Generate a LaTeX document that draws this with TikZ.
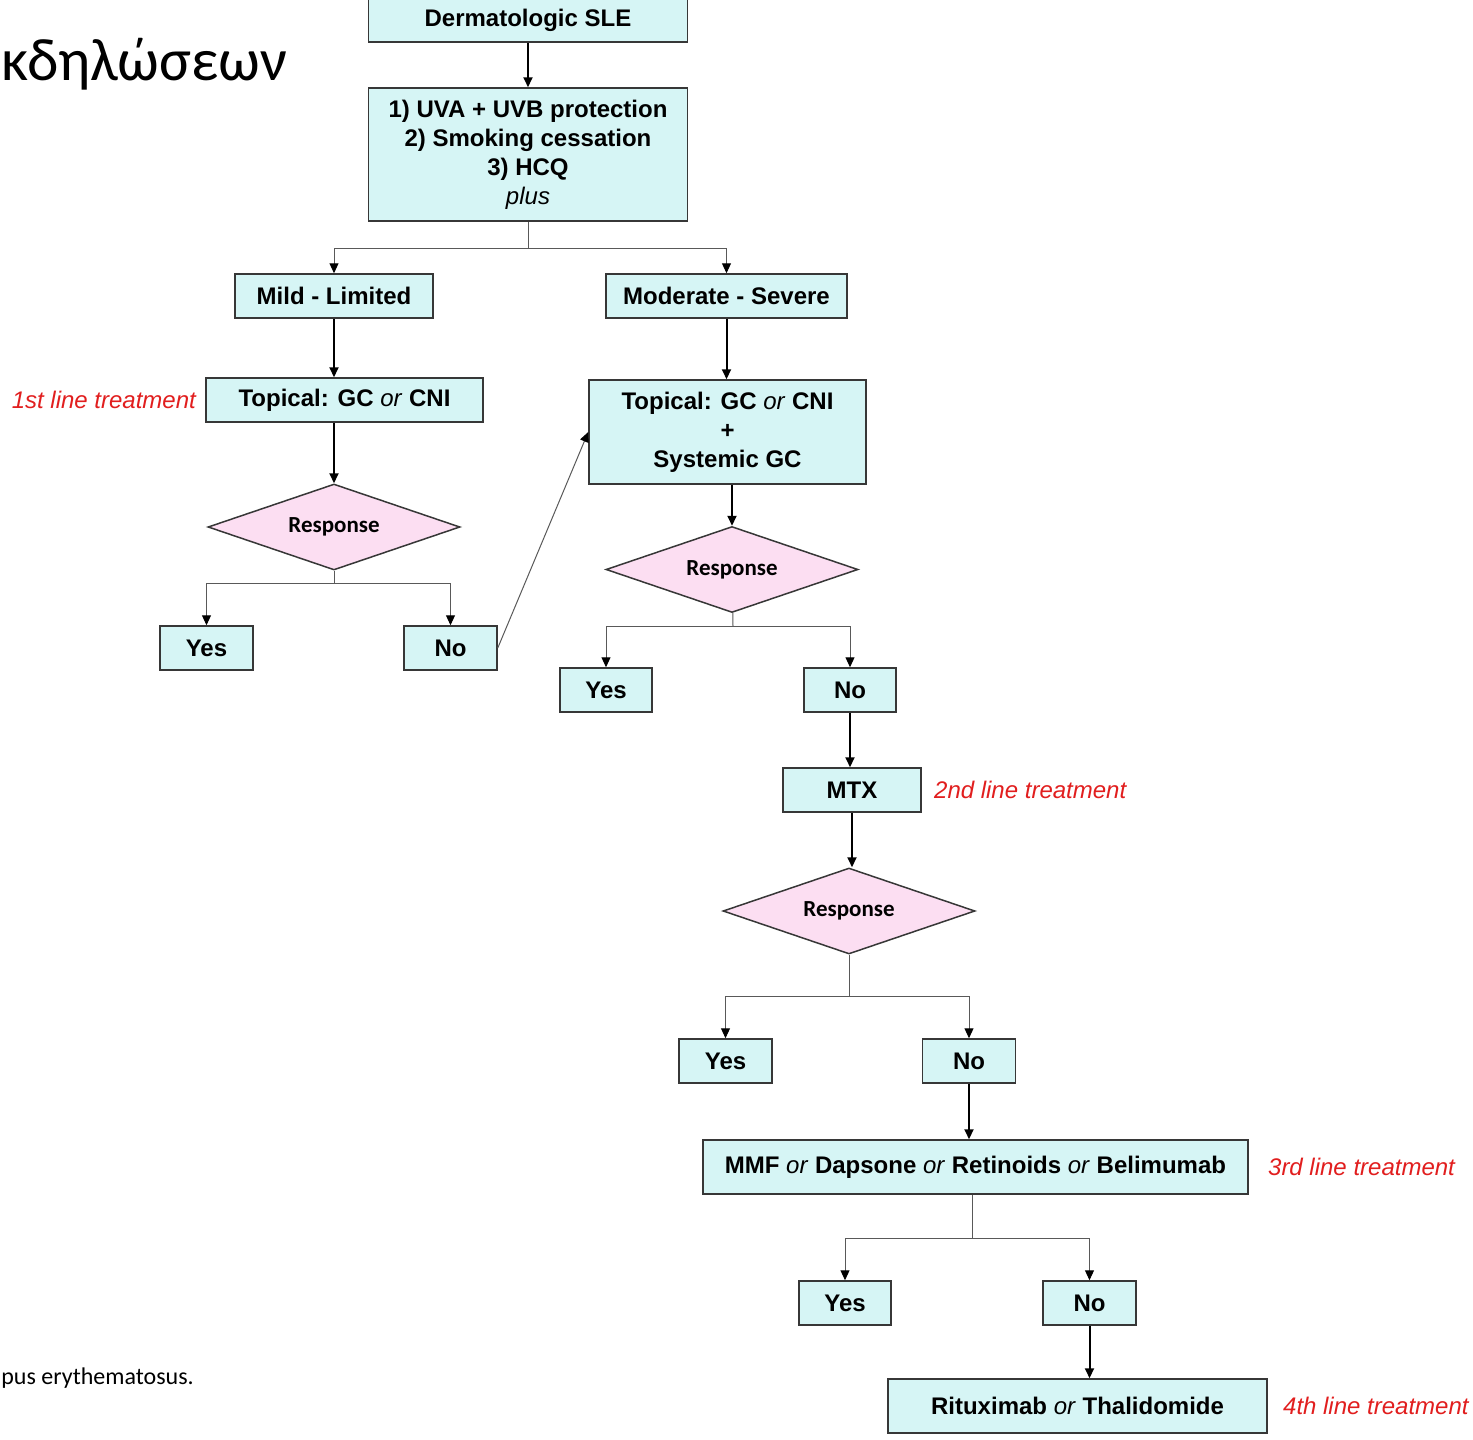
\documentclass[tikz,border=0pt]{standalone}
\usepackage{fontspec}
\setmainfont{Liberation Sans}
\newfontfamily\calfont{Carlito}
\usetikzlibrary{arrows.meta, positioning, shapes.geometric}

\definecolor{boxfill}{RGB}{214,245,245}
\definecolor{decfill}{RGB}{252,222,242}
\definecolor{notered}{RGB}{225,30,30}
\definecolor{edgegray}{RGB}{55,55,55}
\newcommand{\orword}{\textnormal{\itshape or}}

\begin{document}
\begin{tikzpicture}[
    x=0.5pt, y=-0.5pt,
    every node/.style={font=\fontsize{12}{14.5}\selectfont},
    proc/.style={rectangle, draw=edgegray, line width=0.75pt, fill=boxfill, align=center, inner sep=0pt, font=\fontsize{12}{14.5}\selectfont\bfseries},
    dec/.style={diamond, shape aspect=3, draw=edgegray, line width=0.75pt, fill=decfill, inner sep=0pt, minimum width=126pt, minimum height=43pt, font=\calfont\fontsize{11.5}{13}\selectfont\bfseries},
    note/.style={inner sep=0pt, text=notered, font=\fontsize{12}{14.5}\selectfont\itshape},
    arrow/.style={-{Triangle[length=5pt,width=4.5pt]}, line width=1pt, draw=black},
    branch/.style={line width=0.5pt, draw=black!65},
    barrow/.style={branch, -{Triangle[length=5pt,width=4.5pt,color=black]}}
]
\useasboundingbox (0,0) rectangle (1473,1440);

% Page fragments
\node[anchor=base west, inner sep=0pt, font=\calfont\fontsize{30}{36}\selectfont] (title) at (1,80) {κδηλώσεων};
\node[anchor=base west, inner sep=0pt, font=\calfont\fontsize{12}{14}\selectfont] (caption) at (1,1384) {pus erythematosus.};

% Main flow
\node[proc, minimum width=159.5pt, minimum height=22pt] (derm) at (528,20) {Dermatologic SLE};
\node[proc, minimum width=159.5pt, minimum height=66.5pt] (prev) at (528,154.5) {1) UVA + UVB protection\\2) Smoking cessation\\3) HCQ\\\textnormal{\itshape plus}};
\node[proc, minimum width=99pt, minimum height=22pt] (mild) at (334,296) {Mild - Limited};
\node[proc, minimum width=120.5pt, minimum height=22pt] (mod) at (726.5,296) {Moderate - Severe};

% Mild branch
\node[proc, minimum width=138.5pt, minimum height=22pt] (top1) at (344.5,400) {Topical: GC \orword{} CNI};
\node[dec] (resp1) at (334,527) {Response};
\node[proc, minimum width=46.5pt, minimum height=22pt] (yes1) at (206.5,648) {Yes};
\node[proc, minimum width=46.5pt, minimum height=22pt] (no1) at (450.5,648) {No};

% Moderate branch
\node[proc, minimum width=138.5pt, minimum height=52pt] (top2) at (727.5,432) {Topical: GC \orword{} CNI\\+\\Systemic GC};
\node[dec] (resp2) at (732,569.5) {Response};
\node[proc, minimum width=46pt, minimum height=22pt] (yes2) at (606,690) {Yes};
\node[proc, minimum width=46pt, minimum height=22pt] (no2) at (850,690) {No};
\node[proc, minimum width=69pt, minimum height=22pt] (mtx) at (852,790) {MTX};
\node[dec] (resp3) at (849,911) {Response};
\node[proc, minimum width=46.5pt, minimum height=22pt] (yes3) at (725.5,1061) {Yes};
\node[proc, minimum width=46.5pt, minimum height=22pt] (no3) at (969,1061) {No};
\node[proc, minimum width=272.5pt, minimum height=27pt] (third) at (975.5,1167) {MMF \orword{} Dapsone \orword{} Retinoids \orword{} Belimumab};
\node[proc, minimum width=46pt, minimum height=22pt] (yes4) at (845,1303) {Yes};
\node[proc, minimum width=46.5pt, minimum height=22pt] (no4) at (1089.5,1303) {No};
\node[proc, minimum width=189.5pt, minimum height=27pt] (fourth) at (1077.5,1406) {Rituximab \orword{} Thalidomide};

% Treatment lines
\node[note, left=4.5pt of top1] (line1) {1st line treatment};
\node[note, right=6pt of mtx] (line2) {2nd line treatment};
\node[note, right=9.5pt of third] (line3) {3rd line treatment};
\node[note, right=7.5pt of fourth] (line4) {4th line treatment};

% Junctions
\coordinate (j1) at (528,248);
\coordinate (j2) at (334,583);
\coordinate (j3) at (733,626);
\coordinate (j4) at (849,996);
\coordinate (j5) at (972,1238);

% Arrows
\draw[arrow] (derm) -- (prev);
\draw[branch] (prev) -- (j1);
\draw[barrow] (j1) -| (mild);
\draw[barrow] (j1) -| (mod);
\draw[arrow] (mild) -- (mild |- top1.north);
\draw[arrow] (mod) -- (mod |- top2.north);

\draw[arrow] (resp1 |- top1.south) -- (resp1);
\draw[branch] (resp1) -- (j2);
\draw[barrow] (j2) -| (yes1);
\draw[barrow] (j2) -| (no1);
\draw[barrow] (no1.east) -- (top2.west);

\draw[arrow] (resp2 |- top2.south) -- (resp2);
\draw[branch] (resp2) -- (j3);
\draw[barrow] (j3) -| (yes2);
\draw[barrow] (j3) -| (no2);
\draw[arrow] (no2) -- (no2 |- mtx.north);
\draw[arrow] (mtx) -- (mtx |- resp3.north);
\draw[branch] (resp3) -- (j4);
\draw[barrow] (j4) -| (yes3);
\draw[barrow] (j4) -| (no3);
\draw[arrow] (no3) -- (no3 |- third.north);
\draw[branch] (j5 |- third.south) -- (j5);
\draw[barrow] (j5) -| (yes4);
\draw[barrow] (j5) -| (no4);
\draw[arrow] (no4) -- (no4 |- fourth.north);

\end{tikzpicture}
\end{document}
